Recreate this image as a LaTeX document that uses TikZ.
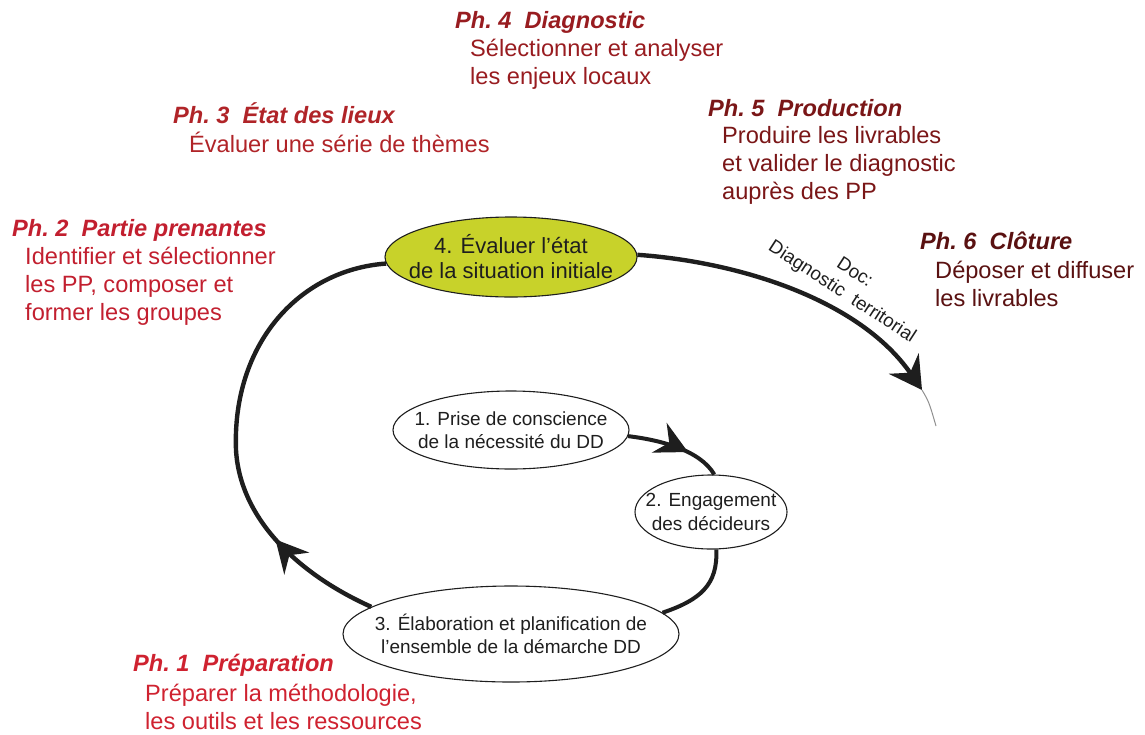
\documentclass[tikz,border=0pt]{standalone}
\usepackage{fontspec}
\setmainfont{Liberation Sans}
\usetikzlibrary{shapes.geometric,arrows.meta,decorations.markings}

% phase colours, from bright red (phase 1) to dark brown (phase 6)
\definecolor{phA}{HTML}{CF2230}
\definecolor{phB}{HTML}{C21F2F}
\definecolor{phC}{HTML}{B02428}
\definecolor{phD}{HTML}{981C20}
\definecolor{phE}{HTML}{7A1617}
\definecolor{phF}{HTML}{5A1111}
\definecolor{stage}{HTML}{C8D22A}
\definecolor{ink}{HTML}{1E1E1E}

\begin{document}
\begin{tikzpicture}[x=1pt,y=-1pt,
  phasehead/.style={anchor=west, inner sep=0pt,
    font=\fontsize{23.6}{28}\selectfont\bfseries\itshape},
  phasebody/.style={anchor=west, inner sep=0pt, align=left,
    font=\fontsize{23.6}{28}\selectfont},
  stepnode/.style={ellipse, draw=ink, line width=1.1pt, inner sep=-40pt,
    align=center, text=ink, font=\fontsize{19}{23.5}\selectfont},
  flow/.style={draw, color=ink, line width=4.4pt},
  midtip/.style={decoration={markings, mark=at position #1 with
        {\arrow{Stealth[length=32pt,width=33pt,inset=11pt]}}},
      postaction={decorate}}
]
\useasboundingbox (0,0) rectangle (1145,734);

% ---- stages of the cycle ----
\node[stepnode, fill=stage, minimum width=252pt, minimum height=80pt,
      font=\fontsize{22}{25}\selectfont] (e4) at (511,257)
      {4. Évaluer l’état\\de la situation initiale};
\node[stepnode, minimum width=236pt, minimum height=78pt] (e1) at (511,430)
      {1. Prise de conscience\\de la nécessité du DD};
\node[stepnode, minimum width=152pt, minimum height=74pt] (e2) at (711,512)
      {2. Engagement\\des décideurs};
\node[stepnode, minimum width=336pt, minimum height=96pt] (e3) at (511,634)
      {3. Élaboration et planification de\\l’ensemble de la démarche DD};

% ---- connectors ----
\draw[flow, line width=4pt, midtip=0.64]
  (e1.-3) .. controls (660,440) and (700,450) .. (e2.85);
\draw[flow, line width=4pt]
  (e2.-82) .. controls (718,585) and (700,600) .. (e3.8);
\draw[flow, midtip=118pt]
  (e3.169) .. controls (300,575) and (240,520) .. (236,450)
           .. controls (232,345) and (298,270) .. (e4.183);

\coordinate (doctip) at (922,390);
\coordinate (tailend) at (936,426);
\draw[flow, -{Stealth[length=32pt,width=36pt,inset=11pt]}]
  (e4.1) .. controls (740,262) and (860,300) .. (doctip);
\draw[ink!50, line width=1pt] (doctip) .. controls (929,402) .. (tailend);

\node[rotate=-33, align=center, inner sep=0pt, text=ink,
      font=\fontsize{18.8}{23}\selectfont] (doc) at (848,283)
      {Doc:\\Diagnostic\ \ territorial};

% ---- phases ----
\node[phasehead, text=phD] (ph4h) at (455,22) {Ph.~4~~Diagnostic};
\node[phasebody, text=phD] (ph4b) at (470,64)
      {Sélectionner et analyser\\les enjeux locaux};

\node[phasehead, text=phC] (ph3h) at (173,113) {Ph.~3~~État des lieux};
\node[phasebody, text=phC] (ph3b) at (189,142) {Évaluer une série de thèmes};

\node[phasehead, text=phB] (ph2h) at (12,230) {Ph.~2~~Partie prenantes};
\node[phasebody, text=phB] (ph2b) at (25,286)
      {Identifier et sélectionner\\les PP, composer et\\former les groupes};

\node[phasehead, text=phE] (ph5h) at (708,108) {Ph.~5~~Production};
\node[phasebody, text=phE] (ph5b) at (722,165)
      {Produire les livrables\\et valider le diagnostic\\auprès des PP};

\node[phasehead, text=phF] (ph6h) at (920,241) {Ph.~6~~Clôture};
\node[phasebody, text=phF] (ph6b) at (935,284)
      {Déposer et diffuser\\les livrables};

\node[phasehead, text=phA] (ph1h) at (133,665) {Ph.~1~~Préparation};
\node[phasebody, text=phA] (ph1b) at (145,707)
      {Préparer la méthodologie,\\les outils et les ressources};
\end{tikzpicture}
\end{document}
